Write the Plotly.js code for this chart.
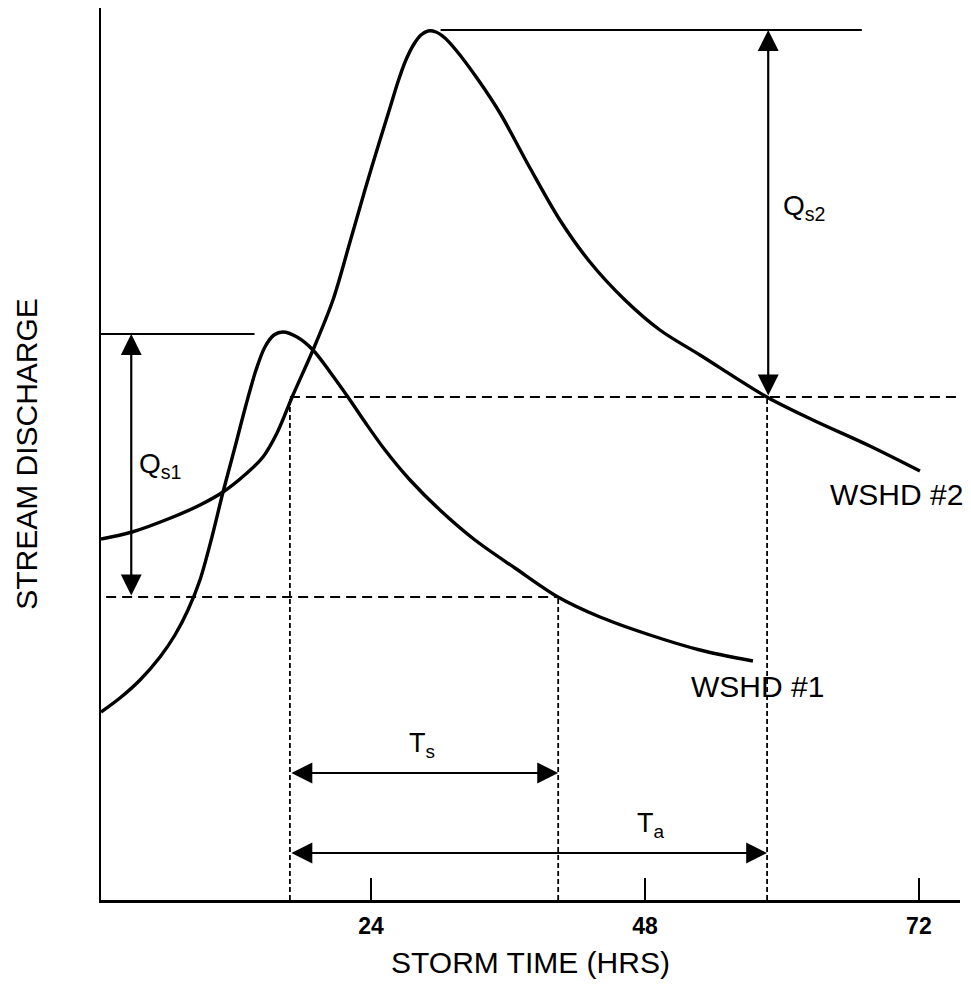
<!DOCTYPE html>
<html>
<head>
<meta charset="utf-8">
<script src="https://cdn.plot.ly/plotly-3.0.1.min.js"></script>
<style>html,body{margin:0;padding:0;background:#fff;}</style>
</head>
<body>
<div id="chart" style="width:971px;height:993px;"></div>
<script>
// ---- Data (storm time in hours, discharge in arbitrary units) ----
const hoursW1 = [0.35, 2.01, 3.77, 5.52, 6.83, 7.97, 9.02, 10.07, 11.04, 12.09, 13.05, 13.93, 14.71, 15.50, 16.29, 17.52, 18.92, 20.41, 21.98, 23.47, 25.23, 27.42, 30.04, 33.11, 36.61, 40.38, 44.06, 48.44, 52.82, 57.46];
const dischargeW1 = [18.8, 20.2, 22.0, 24.3, 26.5, 29.0, 32.0, 36.3, 40.8, 45.3, 49.5, 53.0, 55.3, 56.5, 56.8, 56.3, 55.0, 52.8, 50.3, 47.8, 45.0, 42.0, 39.0, 36.0, 33.2, 30.3, 28.3, 26.5, 25.0, 23.9];

const hoursW2 = [0.35, 3.07, 6.66, 9.02, 11.04, 13.14, 14.54, 15.77, 17.17, 18.92, 20.67, 22.16, 23.47, 24.79, 25.66, 26.36, 27.06, 27.77, 28.38, 29.00, 29.69, 30.48, 31.44, 33.28, 35.30, 37.93, 40.55, 43.18, 46.25, 49.31, 52.82, 58.68, 62.71, 67.70, 72.09];
const dischargeW2 = [36.1, 36.8, 38.3, 39.5, 40.8, 42.7, 44.3, 46.7, 50.5, 55.0, 60.0, 65.8, 71.0, 76.0, 79.2, 81.8, 84.0, 85.6, 86.5, 86.9, 86.8, 86.2, 85.0, 82.2, 78.7, 73.2, 68.0, 63.8, 60.0, 57.0, 54.5, 50.3, 48.0, 45.4, 42.9];

const seriesNames = ["WSHD #1", "WSHD #2"];
const tickHours = [24, 48, 72];
const tickLabels = ["24", "48", "72"];

// Reference levels and times
const peakQ = [56.6, 87.0];          // peak discharge of WSHD #1, WSHD #2
const sameQ = [30.3, 50.3];          // discharge levels used for Ts and Ta
const timeRise = 16.9;               // time WSHD #2 reaches level
const timeS = 40.4;                  // end of Ts
const timeA = 58.7;                  // end of Ta
const peakLineX1 = [0.35, 13.8];     // horizontal peak marker WSHD #1
const peakLineX2 = [30.1, 67.0];     // horizontal peak marker WSHD #2
const levelLineX1 = [0.8, 40.4];     // dashed level line 1
const levelLineX2 = [16.9, 75.6];    // dashed level line 2
const arrowQs1X = 3.0, arrowQs2X = 58.8;
const arrowTsY = 12.7, arrowTaY = 4.7;

const font = "Liberation Sans, Arial, Helvetica, sans-serif";

const traces = [
  {x: hoursW1, y: dischargeW1, name: seriesNames[0], mode: "lines",
   line: {color: "#000", width: 3.4, shape: "spline", smoothing: 0.9}, hoverinfo: "skip"},
  {x: hoursW2, y: dischargeW2, name: seriesNames[1], mode: "lines",
   line: {color: "#000", width: 3.4, shape: "spline", smoothing: 0.9}, hoverinfo: "skip"}
];

const solid = {color: "#000", width: 2.2};
const dashH = {color: "#000", width: 2, dash: "10px,6px"};
const dashV = {color: "#000", width: 1.8, dash: "5px,3px"};
const shapes = [
  {type: "line", xref: "x", yref: "y", x0: peakLineX1[0], x1: peakLineX1[1], y0: peakQ[0], y1: peakQ[0], line: solid},
  {type: "line", xref: "x", yref: "y", x0: peakLineX2[0], x1: peakLineX2[1], y0: peakQ[1], y1: peakQ[1], line: solid},
  {type: "line", xref: "x", yref: "y", x0: levelLineX1[0], x1: levelLineX1[1], y0: sameQ[0], y1: sameQ[0], line: dashH},
  {type: "line", xref: "x", yref: "y", x0: levelLineX2[0], x1: levelLineX2[1], y0: sameQ[1], y1: sameQ[1], line: dashH},
  {type: "line", xref: "x", yref: "y", x0: timeRise, x1: timeRise, y0: 0, y1: sameQ[1], line: dashV},
  {type: "line", xref: "x", yref: "y", x0: timeS, x1: timeS, y0: 0, y1: sameQ[0], line: dashV},
  {type: "line", xref: "x", yref: "y", x0: timeA, x1: timeA, y0: 0, y1: sameQ[1], line: dashV}
];

function dblArrow(x, y, ax, ay) {
  return {x: x, y: y, ax: ax, ay: ay, xref: "x", yref: "y", axref: "x", ayref: "y",
          text: "", showarrow: true, arrowhead: 2, startarrowhead: 2, arrowside: "end+start",
          arrowsize: 1.9, startarrowsize: 1.9, arrowwidth: 2.2, arrowcolor: "#000", standoff: 0, startstandoff: 0};
}
function label(x, y, text, size) {
  return {x: x, y: y, xref: "x", yref: "y", text: text, showarrow: false,
          font: {family: font, size: size, color: "#000"}, xanchor: "center", yanchor: "middle"};
}

const annotations = [
  dblArrow(arrowQs1X, peakQ[0], arrowQs1X, sameQ[0]),
  dblArrow(arrowQs2X, peakQ[1], arrowQs2X, sameQ[1]),
  dblArrow(timeS, arrowTsY, timeRise, arrowTsY),
  dblArrow(timeA, arrowTaY, timeRise, arrowTaY),
  label(5.5, 43.5, "Q<sub>s1</sub>", 28),
  label(61.9, 69.3, "Q<sub>s2</sub>", 28),
  label(28.5, 15.5, "T<sub>s</sub>", 27),
  label(48.5, 7.5, "T<sub>a</sub>", 27),
  label(70.0, 40.6, "WSHD #2", 30),
  label(57.9, 21.4, "WSHD #1", 30)
];

const layout = {
  width: 971, height: 993,
  margin: {l: 101, r: 11, t: 8, b: 93},
  paper_bgcolor: "#fff", plot_bgcolor: "#fff",
  showlegend: false,
  font: {family: font, color: "#000"},
  xaxis: {
    range: [0.35, 75.6], showgrid: false, zeroline: false,
    showline: true, linecolor: "#000", linewidth: 2.5,
    tickvals: tickHours, ticktext: tickLabels,
    ticks: "inside", ticklen: 22, tickwidth: 2, tickcolor: "#000",
    tickfont: {family: font, size: 23, color: "#000", weight: "bold"},
    ticklabelstandoff: 4,
    title: {text: "STORM TIME (HRS)", font: {family: font, size: 30, color: "#000"}, standoff: 14}
  },
  yaxis: {
    range: [0, 89.2], showgrid: false, zeroline: false,
    showline: true, linecolor: "#000", linewidth: 2.5,
    showticklabels: false, ticks: "",
    title: {text: "STREAM DISCHARGE", font: {family: font, size: 30, color: "#000"}, standoff: 52}
  },
  shapes: shapes,
  annotations: annotations
};

Plotly.newPlot("chart", traces, layout, {staticPlot: true, displayModeBar: false});
</script>
</body>
</html>
